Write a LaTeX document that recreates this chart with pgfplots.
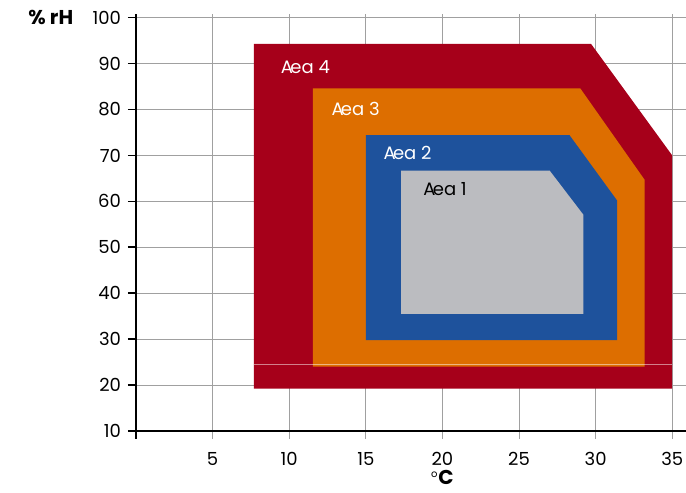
\documentclass[border=0pt]{standalone}
\usepackage{pgfplots}
\pgfplotsset{compat=1.18}
\usepackage{fontspec}
\setmainfont{Poppins}

\definecolor{areafour}{RGB}{166,0,26}
\definecolor{areathree}{RGB}{221,110,0}
\definecolor{areatwo}{RGB}{30,82,156}
\definecolor{areaone}{RGB}{187,188,192}
\definecolor{gridgray}{RGB}{160,160,160}

\begin{document}
\begin{tikzpicture}
\begin{axis}[
    scale only axis,
    width=275pt, height=208.5pt,
    xmin=0, xmax=35.9,
    ymin=10, ymax=100.8,
    axis x line=bottom, axis y line=left,
    axis line style={-, line width=1pt, black},
    xtick={5,10,...,35},
    ytick={10,20,...,100},
    grid=major,
    grid style={gridgray, line width=0.5pt},
    tick align=outside,
    major tick length=4pt,
    x tick style={gridgray, line width=0.5pt},
    y tick style={black, line width=0.8pt},
    tick label style={font=\fontsize{9}{10}\selectfont, /pgf/number format/assume math mode=true},
    x tick label style={yshift=-3pt},
    xlabel={\textsuperscript{\tiny o}\textbf{C}},
    xlabel style={at={(axis description cs:0.557,-0.128)}, anchor=base, inner sep=0pt, font=\fontsize{10}{12}\selectfont},
    ylabel={\textbf{\% rH}},
    ylabel style={rotate=-90, at={(axis description cs:-0.155,0.991)}, anchor=center, font=\fontsize{10}{12}\selectfont},
    clip=false,
]
% Area 4
\addplot[fill=areafour, draw=none] coordinates {
    (7.7,19.2) (35,19.2) (35,70) (29.7,94.3) (7.7,94.3) (7.7,19.2)
};
% Area 3
\addplot[fill=areathree, draw=none] coordinates {
    (11.55,24) (33.2,24) (33.2,64.7) (29,84.6) (11.55,84.6) (11.55,24)
};
% Area 2
\addplot[fill=areatwo, draw=none] coordinates {
    (15,29.8) (31.4,29.8) (31.4,60.2) (28.3,74.4) (15,74.4) (15,29.8)
};
% Area 1
\addplot[fill=areaone, draw=none] coordinates {
    (17.3,35.5) (29.2,35.5) (29.2,57.1) (27,66.7) (17.3,66.7) (17.3,35.5)
};
% faint line across the lower band
\addplot[white, opacity=0.5, line width=0.4pt] coordinates {(7.7,24.6) (35,24.6)};

\node[white, anchor=west, font=\fontsize{9}{10}\selectfont] at (axis cs:9.0,89.3) {A\kern-0.15em ea 4};
\node[white, anchor=west, font=\fontsize{9}{10}\selectfont] at (axis cs:12.3,80.2) {A\kern-0.15em ea 3};
\node[white, anchor=west, font=\fontsize{9}{10}\selectfont] at (axis cs:15.7,70.6) {A\kern-0.15em ea 2};
\node[black, anchor=west, font=\fontsize{9}{10}\selectfont] at (axis cs:18.3,62.7) {A\kern-0.15em ea 1};
\end{axis}
% y axis runs a little below the x axis
\draw[black, line width=1pt] (0,0) -- (0,-4pt);
\pgfresetboundingbox
\useasboundingbox (-68pt,-31pt) rectangle (275pt,215.5pt);
\end{tikzpicture}
\end{document}
